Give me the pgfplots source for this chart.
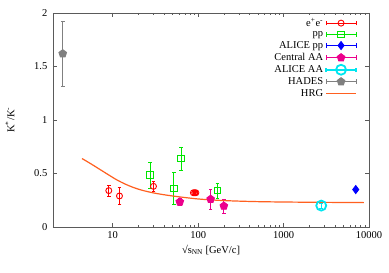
\documentclass[border=0pt]{standalone}
\usepackage{fontspec}
\setmainfont{Liberation Serif}
\usepackage{pgfplots}
\pgfplotsset{compat=1.18}
\usetikzlibrary{plotmarks}
\definecolor{hrg}{RGB}{255,96,32}
\definecolor{axgray}{RGB}{90,90,90}
\definecolor{ggreen}{RGB}{0,230,0}
\definecolor{gcyan}{RGB}{0,230,240}
\definecolor{ggray}{RGB}{128,128,128}
\pgfplotsset{
 errleg/.style={legend image code/.code={
   \draw[##1, mark=none] (0pt,0pt) -- (30pt,0pt);
   \draw[##1, mark=none] (0pt,-2.2pt) -- (0pt,2.2pt) (30pt,-2.2pt) -- (30pt,2.2pt);
   \draw[##1] plot coordinates {(15pt,0pt)};
 }},
 eb/.style={error bars/y dir=both, error bars/y explicit,
   error bars/error bar style={#1, line width=0.9pt},
   error bars/error mark options={rotate=90, mark size=1.8pt}},
}
\begin{document}
\fontsize{10.5}{12}\selectfont
\begin{tikzpicture}
\useasboundingbox (-53pt,-46pt) rectangle (336pt,227pt);
\begin{axis}[
 at={(0,0)}, anchor=south west, scale only axis,
 width=316pt, height=214pt,
 xmode=log, xmin=2, xmax=10000, ymin=0, ymax=2,
 xtick={10,100,1000,10000}, xticklabels={10,100,1000,10000},
 ytick={0,0.5,1,1.5,2}, yticklabels={0,0.5,1,1.5,2},
 minor ytick={},
 tick align=inside, major tick length=4pt, minor tick length=2pt,
 axis line style={axgray, line width=0.8pt},
 every tick/.style={axgray, line width=0.6pt},
 xlabel={√s\textsubscript{NN} [GeV/c]},
 ylabel={K\textsuperscript{*}/K\textsuperscript{-}},
 every axis x label/.style={at={(axis description cs:0.5,-0.107)}, anchor=center},
 every axis y label/.style={at={(axis description cs:-0.136,0.5)}, anchor=center, rotate=90},
 yticklabel style={xshift=-2pt},
 xticklabel style={yshift=-1pt},
 legend style={draw=none, fill=none, at={(axis description cs:0.972,0.995)}, anchor=north east,
   legend cell align=right, row sep=-0.6pt, font=\fontsize{10.5}{12}\selectfont,
   /tikz/every even column/.append style={column sep=6pt}},
 legend plot pos=right,
]
\addplot[red, only marks, mark=o, mark size=3pt, line width=0.9pt, errleg, eb=red]
  table[x=x, y=y, y error=e] {
  x y e
  9 0.34 0.05
  12 0.29 0.08
  30 0.38 0.045
  88 0.32 0.012
  91.2 0.32 0.012
  94 0.32 0.012
  };
\addlegendentry{e\textsuperscript{+}e\textsuperscript{-}}
\addplot[ggreen, only marks, mark=square, mark size=3.3pt, line width=0.9pt, errleg, eb=ggreen]
  table[x=x, y=y, y error=e] {
  x y e
  27.5 0.485 0.125
  52 0.36 0.15
  63 0.64 0.11
  168 0.34 0.07
  };
\addlegendentry{pp}
\addplot[blue, only marks, mark=diamond*, mark size=4pt, line width=0.9pt, errleg, eb=blue]
  table[x=x, y=y, y error=e] {
  x y e
  7000 0.35 0.012
  };
\addlegendentry{ALICE pp}
\addplot[magenta, only marks, mark=pentagon*, mark size=4pt, line width=0.9pt, errleg, eb=magenta]
  table[x=x, y=y, y error=e] {
  x y e
  61 0.235 0.035
  140 0.26 0.095
  200 0.196 0.065
  };
\addlegendentry{Central AA}
\addplot[gcyan, only marks, mark=o, mark size=5pt, line width=1.8pt, errleg, eb=gcyan]
  table[x=x, y=y, y error=e] {
  x y e
  2760 0.2 0.02
  };
\addlegendentry{ALICE AA}
\addplot[ggray, only marks, mark=pentagon*, mark size=4pt, line width=0.9pt, errleg, eb=ggray]
  table[x=x, y=y, y error=e] {
  x y e
  2.6 1.62 0.3
  };
\addlegendentry{HADES}
\addplot[draw=hrg, line width=1.2pt, smooth, mark=none,
  legend image code/.code={\draw[draw=hrg, line width=1.7pt] (0pt,0pt) -- (30pt,0pt);}] coordinates {
  (4.37,0.640) (5.62,0.588) (7.08,0.538) (8.91,0.488) (11.2,0.440)
  (14.1,0.400) (17.8,0.367) (22.4,0.342) (31.6,0.315) (50.1,0.290)
  (100,0.262) (200,0.247) (501,0.237) (1585,0.232) (8710,0.228)
};
\addlegendentry{HRG}
\end{axis}
\end{tikzpicture}
\end{document}
